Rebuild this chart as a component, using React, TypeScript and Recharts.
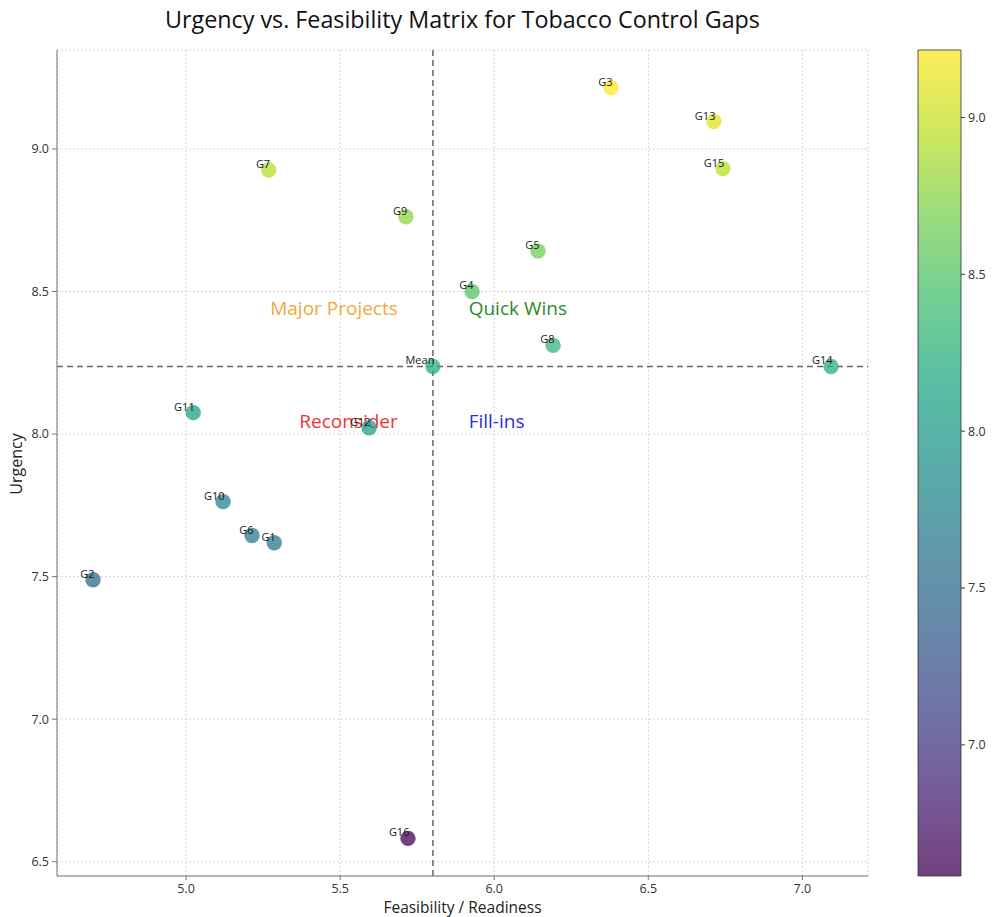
import React from 'react';
import {
  ScatterChart,
  Scatter,
  XAxis,
  YAxis,
  CartesianGrid,
  ReferenceLine,
  ReferenceArea,
  ComposedChart,
  Line,
} from 'recharts';

// ---------- data ----------
const gapNames = ['G1', 'G2', 'G3', 'G4', 'G5', 'G6', 'G7', 'G8', 'G9', 'G10', 'G11', 'G12', 'G13', 'G14', 'G15', 'G16', 'Mean'];
const feasibility = [5.286, 4.698, 6.379, 5.928, 6.142, 5.214, 5.268, 6.191, 5.713, 5.12, 5.023, 5.594, 6.713, 7.093, 6.742, 5.72, 5.801];
const urgency = [7.619, 7.489, 9.215, 8.5, 8.642, 7.644, 8.926, 8.311, 8.762, 7.763, 8.075, 8.022, 9.096, 8.237, 8.931, 6.582, 8.237];

const meanFeasibility = 5.801;
const meanUrgency = 8.237;

const xTicks = [5.0, 5.5, 6.0, 6.5, 7.0];
const yTicks = [6.5, 7.0, 7.5, 8.0, 8.5, 9.0];
const colorbarTicks = [7.0, 7.5, 8.0, 8.5, 9.0];
const xDomain = [4.581, 7.213];
const yDomain = [6.45, 9.347];

const quadrantNames = ['Major Projects', 'Quick Wins', 'Reconsider', 'Fill-ins'];
const quadrantX = [5.687, 5.917, 5.687, 5.917];
const quadrantY = [8.443, 8.443, 8.046, 8.046];
const quadrantColors = ['#f2a93b', '#2b8a2b', '#ee3333', '#2b2be6'];
const quadrantAnchors = ['end', 'start', 'end', 'start'];

// viridis colormap control points
const viridisStops = ['#440154', '#482475', '#414487', '#355f8d', '#2a788e', '#21918c', '#22a884', '#44bf70', '#7ad151', '#bddf26', '#fde725'];
const markerAlpha = 0.75;

const FONT = "'Open Sans', sans-serif";

const cMin = Math.min(...urgency);
const cMax = Math.max(...urgency);

function hexToRgb(h: string) {
  return [parseInt(h.slice(1, 3), 16), parseInt(h.slice(3, 5), 16), parseInt(h.slice(5, 7), 16)];
}

function viridis(t: number) {
  const tt = Math.max(0, Math.min(1, t));
  const n = viridisStops.length - 1;
  const i = Math.min(n - 1, Math.floor(tt * n));
  const f = tt * n - i;
  const a = hexToRgb(viridisStops[i]);
  const b = hexToRgb(viridisStops[i + 1]);
  const c = a.map((v, k) => Math.round(v + (b[k] - v) * f));
  return `rgb(${c[0]},${c[1]},${c[2]})`;
}

const points = gapNames.map((name, i) => ({ name, x: feasibility[i], y: urgency[i] }));
const quadrants = quadrantNames.map((label, i) => ({
  label,
  x: quadrantX[i],
  y: quadrantY[i],
  color: quadrantColors[i],
  anchor: quadrantAnchors[i],
}));

const tickStyle = { fontSize: 12.5, fill: '#333', fontFamily: FONT };

const PointShape = (props: any) => {
  const { cx, cy, payload } = props;
  const t = (payload.y - cMin) / (cMax - cMin);
  return <circle cx={cx} cy={cy} r={7.7} fill={viridis(t)} fillOpacity={markerAlpha} />;
};

const PointLabel = (props: any) => {
  const { cx, cy, payload } = props;
  return (
    <text x={cx + 1.5} y={cy - 2} textAnchor="end" fontSize={11} fill="#1a1a1a" fontFamily={FONT}>
      {payload.name}
    </text>
  );
};

const QuadrantLabel = (props: any) => {
  const { cx, cy, payload } = props;
  return (
    <text x={cx} y={cy} textAnchor={payload.anchor} dominantBaseline="central" fontSize={19} fill={payload.color} fontFamily={FONT}>
      {payload.label}
    </text>
  );
};

export default function App() {
  return (
    <div style={{ position: 'absolute', left: 0, top: 0, width: 1008, height: 917, background: '#fff', fontFamily: FONT }}>
      <svg width={0} height={0} style={{ position: 'absolute' }}>
        <defs>
          <linearGradient id="viridisGrad" x1="0" y1="1" x2="0" y2="0">
            {viridisStops.map((c, i) => (
              <stop key={i} offset={`${(i / (viridisStops.length - 1)) * 100}%`} stopColor={c} stopOpacity={markerAlpha} />
            ))}
          </linearGradient>
        </defs>
      </svg>

      <svg width={1008} height={40} style={{ position: 'absolute', left: 0, top: 0, pointerEvents: 'none' }}>
        <text x={462.5} y={28} textAnchor="middle" fontSize={23.3} fill="#111" fontFamily={FONT}>
          Urgency vs. Feasibility Matrix for Tobacco Control Gaps
        </text>
      </svg>

      <div style={{ position: 'absolute', left: 0, top: 0 }}>
        <ScatterChart width={900} height={917} margin={{ top: 50, right: 32, bottom: 0, left: 0 }}>
          <CartesianGrid stroke="#d4d4d4" strokeDasharray="2 2" />
          <XAxis
            type="number"
            dataKey="x"
            domain={xDomain}
            ticks={xTicks}
            allowDataOverflow
            height={41}
            tickFormatter={(v: number) => v.toFixed(1)}
            tick={tickStyle}
            tickSize={4}
            tickMargin={4}
            stroke="#777"
            label={(p: any) => {
              const vb = p.viewBox || { x: 57, y: 876, width: 811 };
              return (
                <text x={vb.x + vb.width / 2} y={vb.y + 37} textAnchor="middle" fontSize={15.5} fill="#222" fontFamily={FONT}>
                  Feasibility / Readiness
                </text>
              );
            }}
          />
          <YAxis
            type="number"
            dataKey="y"
            domain={yDomain}
            ticks={yTicks}
            allowDataOverflow
            width={57}
            tickFormatter={(v: number) => v.toFixed(1)}
            tick={tickStyle}
            tickSize={5}
            tickMargin={3}
            stroke="#777"
            label={(p: any) => (
              <text x={22} y={464} transform="rotate(-90 22 464)" textAnchor="middle" fontSize={16} fill="#222" fontFamily={FONT}>
                Urgency
              </text>
            )}
          />
          <ReferenceLine x={meanFeasibility} stroke="#666" strokeWidth={1.5} strokeDasharray="6 4" />
          <ReferenceLine y={meanUrgency} stroke="#666" strokeWidth={1.5} strokeDasharray="6 4" />
          <Scatter data={quadrants} shape={QuadrantLabel} isAnimationActive={false} />
          <Scatter data={points} shape={PointShape} isAnimationActive={false} />
          <Scatter data={points} shape={PointLabel} isAnimationActive={false} />
        </ScatterChart>
      </div>

      <div style={{ position: 'absolute', left: 880, top: 0 }}>
        <ComposedChart
          width={128}
          height={917}
          data={[{ x: 0, y: cMin }, { x: 1, y: cMax }]}
          margin={{ top: 50, right: 0, bottom: 41, left: 38 }}
        >
          <XAxis type="number" dataKey="x" domain={[0, 1]} hide />
          <YAxis
            type="number"
            orientation="right"
            domain={[cMin, cMax]}
            ticks={colorbarTicks}
            allowDataOverflow
            width={47}
            axisLine={false}
            tickFormatter={(v: number) => v.toFixed(1)}
            tick={tickStyle}
            tickSize={4}
            tickMargin={3}
            stroke="#333"
            label={(p: any) => (
              <text x={996} y={464} transform="rotate(-90 996 464)" textAnchor="middle" fontSize={14} fill="#222" fontFamily={FONT}>
                Urgency Score
              </text>
            )}
          />
          <ReferenceArea
            x1={0}
            x2={1}
            y1={cMin}
            y2={cMax}
            fill="url(#viridisGrad)"
            fillOpacity={1}
            stroke="#333"
            strokeWidth={0.8}
            ifOverflow="visible"
          />
          <Line dataKey="y" stroke="none" dot={false} isAnimationActive={false} />
        </ComposedChart>
      </div>
    </div>
  );
}
